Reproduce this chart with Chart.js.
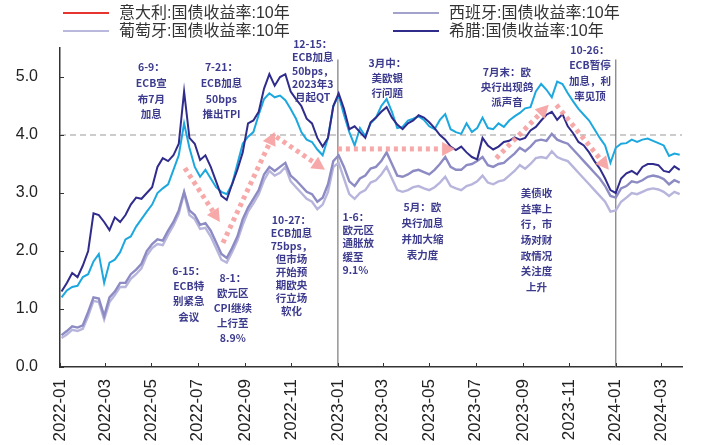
<!DOCTYPE html>
<html>
<head>
<meta charset="utf-8">
<script src="https://cdn.jsdelivr.net/npm/chart.js@4.4.1/dist/chart.umd.min.js"></script>
<style>
  html, body { margin: 0; padding: 0; background: #fff; }
  #wrap { position: relative; width: 701px; height: 445px; }
  #legend { position: absolute; left: 0; top: 0; width: 701px; height: 44px;
    font-family: "Liberation Sans", "Noto Sans CJK SC", sans-serif; font-size: 16px; color: #333; }
  .item { position: absolute; height: 18px; line-height: 18px; white-space: nowrap; }
  .swatch { position: absolute; left: 0; top: 8px; width: 46px; height: 2px; }
  .label { position: absolute; left: 56px; top: 0; }
</style>
</head>
<body>
<div id="wrap">
  <canvas id="chart" width="701" height="445"></canvas>
  <div id="legend"></div>
</div>
<script>
// weekly observations, first one on 2022-01-03
const firstWeek = '2022-01-03';

const italy = [
  1.20, 1.32, 1.38, 1.40, 1.55, 1.60, 1.82, 1.95, 1.45, 1.80,
  1.85, 1.98, 2.20, 2.25, 2.42, 2.55, 2.68, 2.80, 3.00, 3.08,
  3.15, 3.40, 3.65, 4.20, 3.78, 3.45, 3.28, 3.40, 3.25, 3.10,
  3.02, 2.98, 3.15, 3.50, 3.85, 3.97, 4.05, 4.35, 4.62, 4.72,
  4.65, 4.68, 4.60, 4.45, 4.28, 4.05, 3.92, 3.88, 3.75, 3.65,
  3.95, 4.50, 4.68, 4.35, 4.05, 3.82, 4.12, 3.98, 4.20, 4.30,
  4.50, 4.62, 4.40, 4.12, 4.14, 4.25, 4.28, 4.32, 4.26, 4.15,
  4.10, 4.26, 4.36, 4.10, 4.05, 4.02, 4.20, 4.05, 4.12, 4.30,
  4.12, 4.10, 4.20, 4.14, 4.25, 4.32, 4.38, 4.46, 4.48, 4.75,
  4.88, 4.78, 4.65, 4.92, 4.88, 4.72, 4.58, 4.45, 4.35, 4.25,
  4.10, 3.95, 3.82, 3.52, 3.78, 3.85, 3.86, 3.92, 3.88, 3.92,
  3.94, 3.90, 3.86, 3.82, 3.64, 3.68, 3.66
];

const spain = [
  0.55, 0.62, 0.70, 0.68, 0.72, 0.95, 1.20, 1.18, 0.88, 1.20,
  1.30, 1.45, 1.45, 1.60, 1.68, 1.78, 2.00, 2.12, 2.20, 2.18,
  2.35, 2.50, 2.70, 3.02, 2.70, 2.62, 2.45, 2.48, 2.35, 2.15,
  1.95, 1.88, 2.05, 2.25, 2.55, 2.75, 2.90, 3.05, 3.32, 3.45,
  3.38, 3.45, 3.52, 3.30, 3.22, 3.12, 3.02, 2.98, 2.85, 2.92,
  3.15, 3.55, 3.65, 3.45, 3.20, 3.12, 3.25, 3.30, 3.42, 3.45,
  3.55, 3.70, 3.50, 3.30, 3.28, 3.32, 3.38, 3.40, 3.36, 3.32,
  3.40, 3.50, 3.62, 3.45, 3.40, 3.40, 3.48, 3.50, 3.55, 3.62,
  3.48, 3.45, 3.50, 3.52, 3.60, 3.68, 3.78, 3.72, 3.80, 3.90,
  3.92, 3.90, 4.02, 3.92, 3.88, 3.85, 3.75, 3.65, 3.55, 3.45,
  3.35, 3.25, 3.12, 2.95, 2.92, 3.08, 3.12, 3.20, 3.18, 3.22,
  3.28, 3.30, 3.28, 3.24, 3.15, 3.22, 3.18
];

const portugal = [
  0.50, 0.56, 0.64, 0.62, 0.66, 0.88, 1.14, 1.12, 0.82, 1.12,
  1.24, 1.38, 1.38, 1.52, 1.60, 1.70, 1.92, 2.05, 2.12, 2.10,
  2.28, 2.44, 2.64, 3.00, 2.62, 2.55, 2.38, 2.40, 2.25, 2.05,
  1.85, 1.80, 1.98, 2.18, 2.45, 2.68, 2.82, 2.98, 3.22, 3.38,
  3.30, 3.35, 3.45, 3.20, 3.10, 3.00, 2.90, 2.85, 2.72, 2.80,
  3.02, 3.45, 3.52, 3.25, 2.98, 2.90, 3.00, 3.05, 3.18, 3.22,
  3.32, 3.45, 3.25, 3.05, 3.02, 3.05, 3.10, 3.12, 3.08, 3.05,
  3.10, 3.18, 3.28, 3.12, 3.08, 3.05, 3.12, 3.15, 3.20, 3.30,
  3.18, 3.15, 3.20, 3.22, 3.30, 3.38, 3.48, 3.42, 3.50, 3.60,
  3.62, 3.60, 3.72, 3.62, 3.58, 3.55, 3.45, 3.35, 3.25, 3.15,
  3.05, 2.95, 2.85, 2.68, 2.70, 2.85, 2.92, 3.00, 2.98, 3.02,
  3.06, 3.08, 3.06, 3.02, 2.95, 3.02, 2.98
];

const greece = [
  1.30, 1.45, 1.62, 1.55, 1.75, 2.00, 2.65, 2.62, 2.50, 2.36,
  2.58, 2.50, 2.62, 2.80, 2.92, 2.90, 3.00, 3.10, 3.45, 3.60,
  3.55, 3.65, 3.85, 4.75, 3.95, 3.85, 3.57, 3.65, 3.45, 3.20,
  2.95, 2.88, 3.15, 3.40, 3.70, 4.20, 4.25, 4.40, 4.80, 5.05,
  4.85, 5.00, 5.05, 4.75, 4.62, 4.50, 4.28, 4.20, 3.95, 3.80,
  3.95, 4.50, 4.72, 4.45, 4.10, 4.15, 4.05, 3.95, 4.22, 4.30,
  4.40, 4.48, 4.30, 4.18, 4.10, 4.20, 4.25, 4.34, 4.30, 4.22,
  4.12, 4.00, 3.92, 3.80, 3.74, 3.80, 3.70, 3.62, 3.58, 3.95,
  3.82, 3.75, 3.80, 3.88, 3.90, 3.96, 3.92, 3.95, 4.08, 4.14,
  4.25, 4.35, 4.40, 4.26, 4.36, 4.15, 4.03, 3.88, 3.82, 3.70,
  3.55, 3.42, 3.25, 3.05, 3.00, 3.25, 3.34, 3.38, 3.32, 3.45,
  3.50, 3.50, 3.48, 3.38, 3.36, 3.46, 3.40
];

const tickLabels = ['2022-01', '2022-03', '2022-05', '2022-07', '2022-09', '2022-11',
  '2023-01', '2023-03', '2023-05', '2023-07', '2023-09', '2023-11', '2024-01', '2024-03'];
const yTicks = [0, 1, 2, 3, 4, 5];
const axisEnd = '2024-03-28';

const seriesNames = ['意大利:国债收益率:10年', '西班牙:国债收益率:10年', '葡萄牙:国债收益率:10年', '希腊:国债收益率:10年'];
const lineColors = ['#1ca8df', '#8d8bc3', '#b7b5dc', '#302c8c'];
const legendColors = ['#e8342f', '#a3a2cc', '#bab9dd', '#302c8c'];

const yearLines = ['2023-01-01', '2024-01-01'];
const arrowFrom = [['2022-06-14', 3.43], ['2022-08-03', 2.14], ['2022-10-12', 3.97],
  ['2023-01-01', 3.76], ['2023-07-28', 3.60], ['2023-10-15', 4.52]];
const arrowTo = [['2022-07-30', 2.50], ['2022-10-10', 4.05], ['2022-12-15', 3.40],
  ['2023-06-04', 3.76], ['2023-10-05', 4.52], ['2023-12-23', 3.40]];

const notes = [
  { at: ['2022-05-01', 5.17], step: 15.7, lines: ['6-9：', 'ECB宣', '布7月', '加息'] },
  { at: ['2022-08-01', 5.17], step: 15.7, lines: ['7-21：', 'ECB加息', '50bps', '推出TPI'] },
  { at: ['2022-11-29', 5.57], step: 13.3, lines: ['12-15：', 'ECB加息', '50bps，', '2023年3', '月起QT'] },
  { at: ['2023-03-07', 5.24], step: 15, lines: ['3月中：', '美欧银', '行问题'] },
  { at: ['2023-08-11', 5.09], step: 15, lines: ['7月末：欧', '央行出现鸽', '派声音'] },
  { at: ['2023-11-28', 5.47], step: 15.5, lines: ['10-26：', 'ECB暂停', '加息，利', '率见顶'] },
  { at: ['2022-11-01', 2.53], step: 12.9, lines: ['10-27：', 'ECB加息', '75bps，', '但市场', '开始预', '期欧央', '行立场', '软化'] },
  { at: ['2023-01-07', 2.59], step: 13.3, left: true, lines: ['1-6：', '欧元区', '通胀放', '缓至', '9.1%'] },
  { at: ['2022-06-19', 1.66], step: 15.3, lines: ['6-15：', 'ECB特', '别紧急', '会议'] },
  { at: ['2022-08-16', 1.53], step: 15, lines: ['8-1：', '欧元区', 'CPI继续', '上行至', '8.9%'] },
  { at: ['2023-04-22', 2.76], step: 16, lines: ['5月：欧', '央行加息', '并加大缩', '表力度'] },
  { at: ['2023-09-19', 3.00], step: 15.7, lines: ['美债收', '益率上', '行，市', '场对财', '政情况', '关注度', '上升'] }
];

const base = Date.UTC(2022, 0, 1);
function toDay(s) {
  const p = s.split('-').map(Number);
  return (Date.UTC(p[0], p[1] - 1, p[2] || 1) - base) / 86400000;
}
const start = toDay(firstWeek);
const points = arr => arr.map((v, i) => ({ x: start + 7 * i, y: v }));
const tickDays = tickLabels.map(t => toDay(t));

// legend as html, two columns
const legendPos = [[63, 4], [393, 4], [63, 22], [393, 22]];
const legend = document.getElementById('legend');
seriesNames.forEach((name, i) => {
  const it = document.createElement('div');
  it.className = 'item';
  it.style.left = legendPos[i][0] + 'px';
  it.style.top = legendPos[i][1] + 'px';
  it.innerHTML = `<span class="swatch" style="background:${legendColors[i]}"></span><span class="label">${name}</span>`;
  legend.appendChild(it);
});

function drawArrow(ctx, x1, y1, x2, y2) {
  const ang = Math.atan2(y2 - y1, x2 - x1);
  const head = 13;
  const bx = x2 - head * Math.cos(ang), by = y2 - head * Math.sin(ang);
  const col = 'rgba(246,158,158,0.9)';
  ctx.save();
  ctx.strokeStyle = col;
  ctx.lineWidth = 5;
  ctx.setLineDash([4, 4]);
  ctx.beginPath();
  ctx.moveTo(x1, y1);
  ctx.lineTo(bx, by);
  ctx.stroke();
  ctx.setLineDash([]);
  ctx.fillStyle = col;
  ctx.beginPath();
  ctx.moveTo(x2, y2);
  ctx.lineTo(bx + 7 * Math.sin(ang), by - 7 * Math.cos(ang));
  ctx.lineTo(bx - 7 * Math.sin(ang), by + 7 * Math.cos(ang));
  ctx.closePath();
  ctx.fill();
  ctx.restore();
}

const refLines = {
  id: 'refLines',
  beforeDatasetsDraw(chart) {
    const { ctx, chartArea: a, scales: { x, y } } = chart;
    ctx.save();
    ctx.strokeStyle = '#9a9a9a';
    ctx.lineWidth = 1.2;
    ctx.setLineDash([6, 4]);
    ctx.beginPath();
    ctx.moveTo(a.left, y.getPixelForValue(4));
    ctx.lineTo(a.right, y.getPixelForValue(4));
    ctx.stroke();
    ctx.setLineDash([]);
    ctx.strokeStyle = '#7a7a7a';
    yearLines.forEach(d => {
      const px = x.getPixelForValue(toDay(d));
      ctx.beginPath();
      ctx.moveTo(px, y.getPixelForValue(5.3));
      ctx.lineTo(px, y.getPixelForValue(0));
      ctx.stroke();
    });
    ctx.restore();
  }
};

const overlays = {
  id: 'overlays',
  afterDatasetsDraw(chart) {
    const { ctx, scales: { x, y } } = chart;
    arrowFrom.forEach((f, i) => {
      const t = arrowTo[i];
      drawArrow(ctx, x.getPixelForValue(toDay(f[0])), y.getPixelForValue(f[1]),
        x.getPixelForValue(toDay(t[0])), y.getPixelForValue(t[1]));
    });
    ctx.save();
    ctx.fillStyle = '#3d3b8e';
    ctx.font = 'bold 10.5px "Noto Sans CJK SC", sans-serif';
    ctx.textBaseline = 'middle';
    notes.forEach(n => {
      const px = x.getPixelForValue(toDay(n.at[0]));
      const py = y.getPixelForValue(n.at[1]);
      ctx.textAlign = n.left ? 'left' : 'center';
      n.lines.forEach((s, k) => ctx.fillText(s, px, py + k * n.step));
    });
    ctx.restore();
  }
};

const innerTicks = {
  id: 'innerTicks',
  afterDraw(chart) {
    const { ctx, chartArea: a, scales: { x, y } } = chart;
    ctx.save();
    ctx.strokeStyle = '#333';
    ctx.lineWidth = 1;
    x.ticks.forEach(t => {
      const px = Math.round(x.getPixelForValue(t.value)) + 0.5;
      ctx.beginPath();
      ctx.moveTo(px, a.bottom);
      ctx.lineTo(px, a.bottom - 4);
      ctx.stroke();
    });
    y.ticks.forEach(t => {
      const py = Math.round(y.getPixelForValue(t.value)) + 0.5;
      ctx.beginPath();
      ctx.moveTo(a.left, py);
      ctx.lineTo(a.left + 4, py);
      ctx.stroke();
    });
    ctx.restore();
  }
};

const allSeries = [italy, spain, portugal, greece];
const widths = [2, 2.4, 2.4, 2];
const drawOrder = [2, 3, 4, 1];

new Chart(document.getElementById('chart'), {
  type: 'line',
  data: {
    datasets: allSeries.map((s, i) => ({
      label: seriesNames[i],
      data: points(s),
      borderColor: lineColors[i],
      borderWidth: widths[i],
      pointRadius: 0,
      tension: 0,
      order: drawOrder[i]
    }))
  },
  options: {
    responsive: false,
    animation: false,
    devicePixelRatio: 1,
    layout: { padding: { top: 48, right: 19, left: 0, bottom: 0 } },
    plugins: { legend: { display: false }, tooltip: { enabled: false } },
    scales: {
      x: {
        type: 'linear',
        min: 0,
        max: toDay(axisEnd),
        afterBuildTicks: s => { s.ticks = tickDays.map(v => ({ value: v })); },
        afterFit: s => { s.height = 78; },
        grid: { display: false, drawTicks: false },
        border: { display: true, color: '#333', width: 1.5 },
        ticks: {
          autoSkip: false,
          minRotation: 90,
          maxRotation: 90,
          padding: 12,
          color: '#222',
          font: { family: '"Liberation Sans", Arial, sans-serif', size: 17 },
          callback: v => tickLabels[tickDays.indexOf(v)]
        }
      },
      y: {
        min: 0,
        max: 5.5,
        afterBuildTicks: s => { s.ticks = yTicks.map(v => ({ value: v })); },
        afterFit: s => { s.width = 60; },
        grid: { display: false, drawTicks: false },
        border: { display: true, color: '#333', width: 1.5 },
        ticks: {
          padding: 22,
          color: '#222',
          font: { family: '"Liberation Sans", Arial, sans-serif', size: 16 },
          callback: v => v.toFixed(1)
        }
      }
    }
  },
  plugins: [refLines, overlays, innerTicks]
});
</script>
</body>
</html>
